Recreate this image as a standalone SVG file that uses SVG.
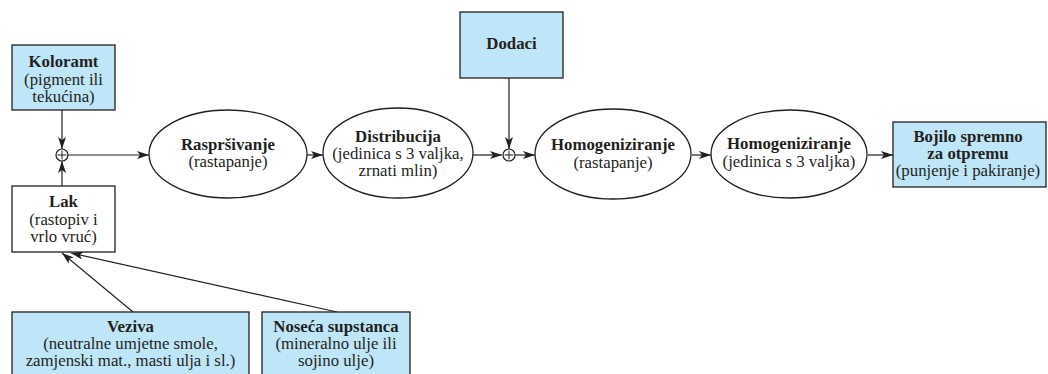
<svg xmlns="http://www.w3.org/2000/svg" width="1048" height="374" viewBox="0 0 1048 374">
<style>
text{font-family:"Liberation Serif","Times New Roman",serif;font-size:16.8px;fill:#231f20;text-anchor:middle}
.b{font-weight:bold}
.box{fill:#bfe6f8;stroke:#231f20;stroke-width:1.3}
.wbox{fill:#fff;stroke:#231f20;stroke-width:1.3}
.ell{fill:#fff;stroke:#231f20;stroke-width:1.3}
.ln{fill:none;stroke:#231f20;stroke-width:1.2;marker-end:url(#ah)}
.j{fill:#fff;stroke:#231f20;stroke-width:1.2}
</style>
<defs>
<marker id="ah" viewBox="0 0 12 8" refX="12" refY="4" markerWidth="12" markerHeight="8" markerUnits="userSpaceOnUse" orient="auto">
<path d="M0,0 L12,4 L0,8 L3,4 z" fill="#231f20"/>
</marker>
</defs>
<rect width="1048" height="374" fill="#fff"/>
<g id="connectors">
<line class="ln" x1="62" y1="110" x2="62" y2="149"/>
<line class="ln" x1="62" y1="186" x2="62" y2="161"/>
<line class="ln" x1="68" y1="155" x2="149" y2="155"/>
<line class="ln" x1="307" y1="155" x2="323" y2="155"/>
<line class="ln" x1="473" y1="155" x2="502" y2="155"/>
<line class="ln" x1="509" y1="78" x2="509" y2="149"/>
<line class="ln" x1="515" y1="155" x2="535" y2="155"/>
<line class="ln" x1="692" y1="155" x2="711" y2="155"/>
<line class="ln" x1="868" y1="155" x2="893" y2="155"/>
<line class="ln" x1="133" y1="312" x2="62" y2="253"/>
<line class="ln" x1="337" y1="312" x2="71" y2="253"/>
</g>
<g id="junction1">
<circle class="j" cx="62" cy="155" r="6"/>
<line x1="57.5" y1="155" x2="66.5" y2="155" stroke="#231f20" stroke-width="1"/>
<line x1="62" y1="150.5" x2="62" y2="159.5" stroke="#231f20" stroke-width="1"/>
</g>
<g id="junction2">
<circle class="j" cx="509" cy="155" r="6"/>
<line x1="504.5" y1="155" x2="513.5" y2="155" stroke="#231f20" stroke-width="1"/>
<line x1="509" y1="150.5" x2="509" y2="159.5" stroke="#231f20" stroke-width="1"/>
</g>
<g id="koloramt">
<rect class="box" x="12" y="45" width="103" height="65"/>
<text class="b" x="63.5" y="67">Koloramt</text>
<text x="63.5" y="85">(pigment ili</text>
<text x="63.5" y="102">tekućina)</text>
</g>
<g id="lak">
<rect class="wbox" x="12" y="186" width="103" height="66"/>
<text class="b" x="63.5" y="207">Lak</text>
<text x="63.5" y="225">(rastopiv i</text>
<text x="63.5" y="242">vrlo vruć)</text>
</g>
<g id="veziva">
<rect class="box" x="12" y="312" width="237" height="70"/>
<text class="b" x="130.5" y="332">Veziva</text>
<text x="130.5" y="349">(neutralne umjetne smole,</text>
<text x="130.5" y="366">zamjenski mat., masti ulja i sl.)</text>
</g>
<g id="noseca">
<rect class="box" x="262" y="312" width="148" height="70"/>
<text class="b" x="336" y="332">Noseća supstanca</text>
<text x="336" y="349">(mineralno ulje ili</text>
<text x="336" y="366">sojino ulje)</text>
</g>
<g id="rasprsivanje">
<ellipse class="ell" cx="228" cy="154" rx="79" ry="44"/>
<text class="b" x="228" y="150">Raspršivanje</text>
<text x="228" y="167">(rastapanje)</text>
</g>
<g id="distribucija">
<ellipse class="ell" cx="398" cy="153" rx="75" ry="45"/>
<text class="b" x="398" y="142">Distribucija</text>
<text x="398" y="159">(jedinica s 3 valjka,</text>
<text x="398" y="176">zrnati mlin)</text>
</g>
<g id="dodaci">
<rect class="box" x="460" y="12" width="103" height="66"/>
<text class="b" x="511.5" y="49">Dodaci</text>
</g>
<g id="homog1">
<ellipse class="ell" cx="613" cy="154" rx="78" ry="45"/>
<text class="b" x="613" y="150">Homogeniziranje</text>
<text x="613" y="168">(rastapanje)</text>
</g>
<g id="homog2">
<ellipse class="ell" cx="789" cy="154" rx="78" ry="44"/>
<text class="b" x="789" y="149">Homogeniziranje</text>
<text x="789" y="167">(jedinica s 3 valjka)</text>
</g>
<g id="bojilo">
<rect class="box" x="893" y="122" width="153" height="65"/>
<text class="b" x="968" y="142">Bojilo spremno</text>
<text class="b" x="968" y="159">za otpremu</text>
<text x="968" y="176">(punjenje i pakiranje)</text>
</g>
</svg>
